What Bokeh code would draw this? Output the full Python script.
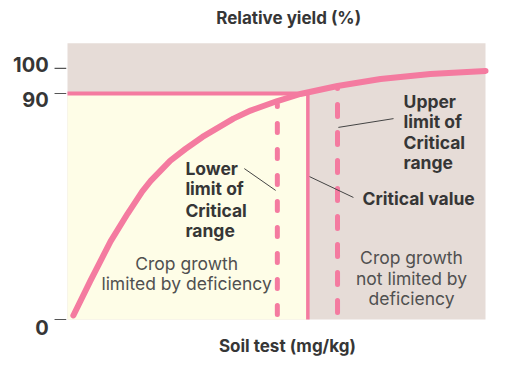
from bokeh.plotting import figure
from bokeh.models import Range1d, ColumnDataSource
from bokeh.core.properties import value
from bokeh.embed import file_html
from bokeh.resources import INLINE

# ---------------- data ----------------
soil = [1.4, 5.5, 10.3, 14.4, 17.9, 19.9, 24.6, 28.2, 32.3, 39.7, 43.8, 50.2, 55.7, 64.6, 74.9, 86.8, 100]
yield_pct = [1.6, 15.5, 31.1, 42.2, 51.0, 55.2, 63.3, 67.9, 72.7, 80.0, 83.2, 87.0, 89.8, 93.0, 95.8, 97.8, 99.0]
threshold_yield = 90
critical_value = 57.5
lower_limit = 50.2
upper_limit = 64.6
lower_top = 85.6
upper_top = 92.0
y_ticks = [0, 90, 100]
y_tick_labels = ["0", "90", "100"]
x_max = 100
y_max = 110
title_text = "Relative yield (%)"
xlabel_text = "Soil test (mg/kg)"

# ---------------- layout ----------------
W, H = 518, 374
PX0, PX1 = 67, 485        # px of soil 0 and soil 100
PY0, PY90 = 319, 93       # py of yield 0 and 90
sx = (PX1 - PX0) / x_max
sy = (PY0 - PY90) / threshold_yield
x_start = -PX0 / sx
x_end = (W - PX0) / sx
y_end = PY0 / sy
y_start = -(H - PY0) / sy

PINK = "#f47ba0"
BEIGE = "#e6dcd7"
YELLOW = "#fefde7"
DARK = "#363636"
GRAY = "#505050"
FONT = value("Inter")

p = figure(width=W, height=H, x_range=Range1d(x_start, x_end), y_range=Range1d(y_start, y_end),
           output_backend="svg", toolbar_location=None, x_axis_location=None, y_axis_location=None,
           min_border=0, outline_line_color=None, background_fill_color="white", border_fill_color="white")
p.xgrid.visible = False
p.ygrid.visible = False

# backgrounds
p.quad(left=[0], right=[x_max], bottom=[0], top=[y_max], fill_color=BEIGE, line_color=None)
p.quad(left=[0], right=[critical_value], bottom=[0], top=[threshold_yield], fill_color=YELLOW, line_color=None)

# dashed limits (drawn bottom-up)
p.line([lower_limit, lower_limit], [0, lower_top], line_color=PINK, line_width=5,
       line_dash="9 17", line_dash_offset=21, line_cap="round")
p.line([upper_limit, upper_limit], [0, upper_top], line_color=PINK, line_width=5,
       line_dash="12 16", line_dash_offset=21, line_cap="round")

# critical value solid line
p.line([critical_value, critical_value], [0, threshold_yield], line_color=PINK, line_width=3.5)
# 90 line
p.line([0, 56], [threshold_yield, threshold_yield], line_color=PINK, line_width=4)

# response curve
p.line(soil, yield_pct, line_color=PINK, line_width=6, line_cap="round", line_join="round")

# leader lines
p.segment(x0=[42.3, 57.9, 64.8], y0=[60.1, 56.9, 76.5], x1=[49.8, 68.4, 78.0], y1=[51.4, 48.6, 80.0],
          line_color="#444444", line_width=1)

# tick marks
p.segment(x0=[-3.1] * 3, x1=[-0.3] * 3, y0=y_ticks, y1=y_ticks, line_color="#555555", line_width=1.2)
tick_src = ColumnDataSource(dict(x=[-4.5] * 3, y=y_ticks, t=y_tick_labels, off=[8, 6, -4]))
p.text(x="x", y="y", text="t", y_offset="off", source=tick_src, text_font=FONT, text_font_style="bold",
       text_font_size="20px", text_color=DARK, text_align="right", text_baseline="middle")

# titles
p.text(x=[52.9], y=[119.9], text=[title_text], text_font=FONT, text_font_style="bold",
       text_font_size="17px", text_color=DARK, text_align="center", text_baseline="middle")
p.text(x=[52.6], y=[-10.4], text=[xlabel_text], text_font=FONT, text_font_style="bold",
       text_font_size="17px", text_color=DARK, text_align="center", text_baseline="middle")

# bold annotations
lower_lines = ["Lower", "limit of", "Critical", "range"]
upper_lines = ["Upper", "limit of", "Critical", "range"]
p.text(x=[28.2] * 4, y=[60.1, 52.2, 43.4, 35.4], text=lower_lines, text_font=FONT, text_font_style="bold",
       text_font_size="17.5px", text_color=DARK, text_align="left", text_baseline="middle")
p.text(x=[80.4] * 4, y=[86.8, 78.9, 70.5, 62.5], text=upper_lines, text_font=FONT, text_font_style="bold",
       text_font_size="17.5px", text_color=DARK, text_align="left", text_baseline="middle")
p.text(x=[70.6], y=[48.2], text=["Critical value"], text_font=FONT, text_font_style="bold",
       text_font_size="17.5px", text_color=DARK, text_align="left", text_baseline="middle")

# regular annotations
p.text(x=[28.5] * 2, y=[22.3, 14.3], text=["Crop growth", "limited by deficiency"], text_font=FONT,
       text_font_size="17.5px", text_color=GRAY, text_align="center", text_baseline="middle")
p.text(x=[82.3] * 3, y=[24.7, 16.3, 8.4], text=["Crop growth", "not limited by", "deficiency"], text_font=FONT,
       text_font_size="17.5px", text_color=GRAY, text_align="center", text_baseline="middle")

open("out.html", "w").write(file_html(p, INLINE))
